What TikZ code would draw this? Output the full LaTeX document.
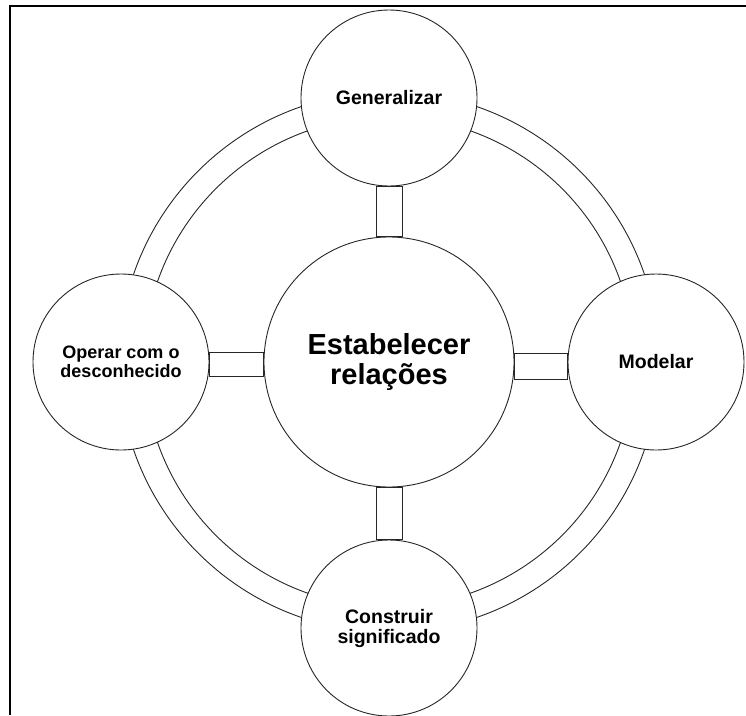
\documentclass[tikz,border=0pt]{standalone}
\usepackage{fontspec}
\setmainfont{Liberation Sans}
\usetikzlibrary{backgrounds}
\begin{document}
\begin{tikzpicture}[x=1pt,y=-1pt,
  outline/.style={draw=black!85, line width=0.9pt},
  sat/.style={circle, outline, fill=white, minimum size=176pt, inner sep=0pt, align=center,
    font=\fontsize{19.5}{20}\selectfont\bfseries},
  hub/.style={circle, outline, fill=white, minimum size=250pt, inner sep=0pt, align=center,
    font=\fontsize{29}{30.5}\selectfont\bfseries},
  bar/.style={outline},
  ring/.style={outline}]
\useasboundingbox (0,0) rectangle (746,715);
\draw[line width=2.5pt] (10,715) -- (10,6) -- (746,6);

\node[hub] (est) at (389,362) {Estabelecer\\rela\c{c}\~oes};
\node[sat] (gen) at (389,98) {Generalizar};
\node[sat] (mod) at (656,362) {Modelar};
\node[sat] (con) at (389,628) {Construir\\significado};
\node[sat, font=\fontsize{18}{19}\selectfont\bfseries] (ope) at (121,362) {Operar com o\\desconhecido};

\begin{scope}[on background layer]
  \draw[ring] (est.center) circle[radius=270pt];
  \draw[ring] (est.center) circle[radius=245pt];
\end{scope}
\draw[bar] ([xshift=-13pt]gen.south) rectangle ([xshift=13pt]est.north);
\draw[bar] ([xshift=-13pt]est.south) rectangle ([xshift=13pt]con.north);
\draw[bar] ([yshift=10pt]ope.east) rectangle ([yshift=-14pt]est.west);
\draw[bar] ([yshift=9pt]est.east) rectangle ([yshift=-17pt]mod.west);
\end{tikzpicture}
\end{document}
